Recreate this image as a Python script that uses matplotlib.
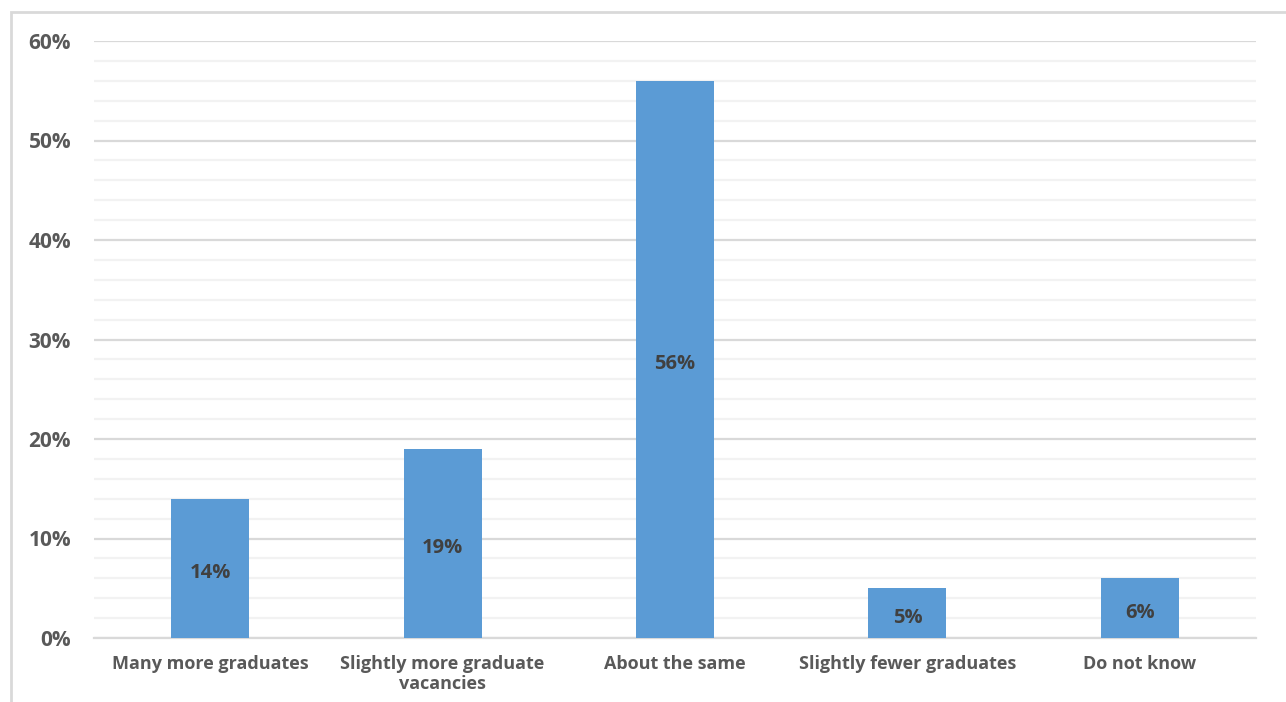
import matplotlib
matplotlib.use("Agg")
import matplotlib.pyplot as plt
from matplotlib.patches import Rectangle
from matplotlib.ticker import MultipleLocator, FuncFormatter

categories = ["Many more graduates", "Slightly more graduate\nvacancies", "About the same",
              "Slightly fewer graduates", "Do not know"]
values = [14, 19, 56, 5, 6]
labels = ["14%", "19%", "56%", "5%", "6%"]

plt.rcParams['font.family'] = ['Open Sans', 'DejaVu Sans']

fig = plt.figure(figsize=(12.86, 7.02), dpi=100)
ax = fig.add_axes([94/1286, 1-638/702, (1256-94)/1286, (638-41)/702])

# chart border (left and top visible, extends past right/bottom)
fig.patches.append(Rectangle((11/1286, -0.1), 1.2, 1 - 12/702 + 0.1, transform=fig.transFigure,
                             fill=False, edgecolor='#D9D9D9', linewidth=2))

x = list(range(len(categories)))
bars = ax.bar(x, values, width=0.336, color='#5B9BD5', zorder=3)
for xi, v, lab in zip(x, values, labels):
    ax.annotate(lab, (xi, v/2), xytext=(0, -3.5), textcoords='offset points',
                ha='center', va='center', fontsize=14.5, fontweight='bold',
                color='#404040', zorder=4)

ax.set_xlim(-0.5, len(categories) - 0.5)
ax.set_ylim(0, 60)
ax.yaxis.set_major_locator(MultipleLocator(10))
ax.yaxis.set_minor_locator(MultipleLocator(2))
ax.yaxis.set_major_formatter(FuncFormatter(lambda v, p: f"{int(v)}%"))
ax.grid(axis='y', which='major', color='#D9D9D9', linewidth=1.6, zorder=0)
ax.grid(axis='y', which='minor', color='#F2F2F2', linewidth=1.6, zorder=0)
ax.set_axisbelow(True)
for s in ['top', 'right', 'left']:
    ax.spines[s].set_visible(False)
ax.spines['bottom'].set_color('#D9D9D9')
ax.spines['bottom'].set_linewidth(1.6)
ax.tick_params(axis='both', which='both', length=0)
ax.tick_params(axis='y', pad=16.5, labelsize=15, labelcolor='#595959')
ax.tick_params(axis='x', pad=12, labelsize=13, labelcolor='#595959')
ax.set_xticks(x)
ax.set_xticklabels(categories, fontweight='bold', linespacing=1.2)
for t in ax.get_yticklabels():
    t.set_fontweight('bold')

fig.savefig("out.png", dpi=100)
